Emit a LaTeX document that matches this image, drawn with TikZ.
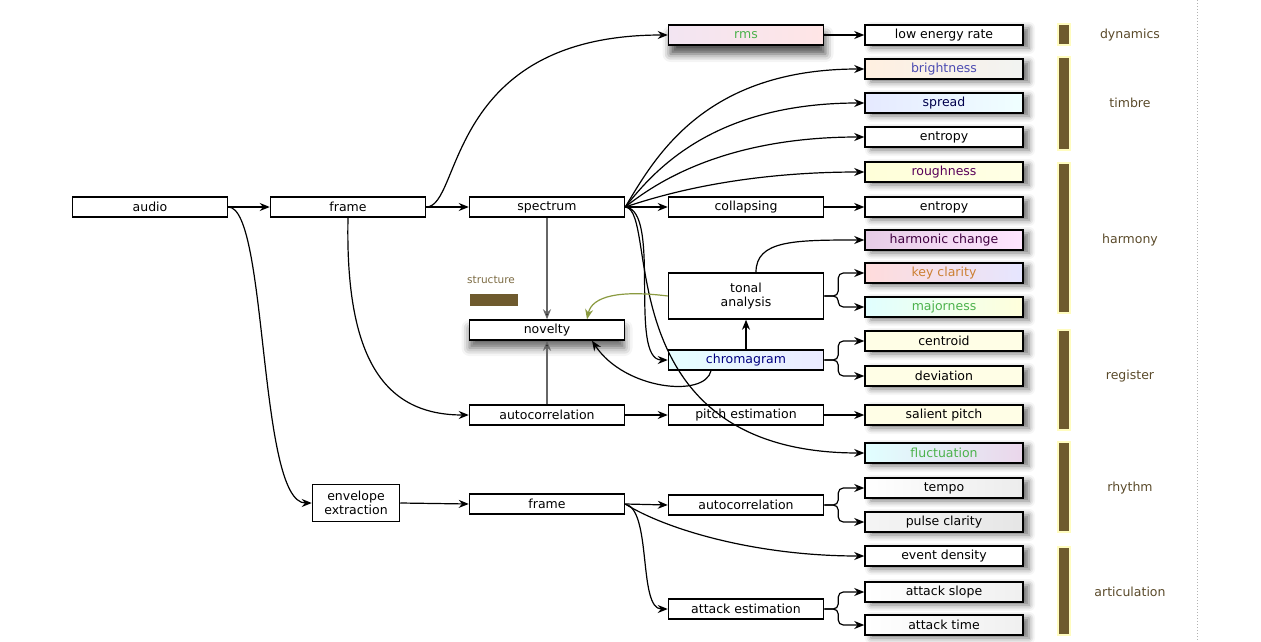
\documentclass[tikz,border=0pt]{standalone}
\usepackage{fontspec}
\setmainfont{DejaVu Sans}
\usetikzlibrary{arrows.meta,shadows.blur}
\definecolor{barbrown}{HTML}{6E5A2E}
\definecolor{cattext}{HTML}{5A4A2A}
\definecolor{olivearr}{HTML}{8A9A40}
\newcommand{\fs}{\fontsize{12.5}{14}\selectfont}
\tikzset{
  box/.style={draw=black, line width=1.5pt, minimum width=155pt, minimum height=20pt, inner sep=1pt, font=\fs, fill=white},
  rbox/.style={box, minimum width=158pt, blur shadow={shadow xshift=6pt, shadow yshift=-3pt, shadow blur radius=6pt, shadow opacity=55}},
  arr/.style={-{Stealth[length=10pt,width=8pt]}, line width=1.2pt},
  grayarr/.style={arr, draw=gray!80!black, -{Stealth[length=10pt,width=8pt,fill=black]}},
  catbar/.style={fill=barbrown, draw=yellow!25, line width=2pt},
  cat/.style={font=\fs, text=cattext, inner sep=1pt},
}
\begin{document}
\begin{tikzpicture}[x=1pt,y=-1pt]
\useasboundingbox (0,0) rectangle (1261,642);
% vertical dotted line
\draw[gray!60, line width=0.8pt, dash pattern=on 1pt off 2pt] (1197,0) -- (1197,642);
% category bars
\fill[catbar] (1058,24) rectangle (1070,45);
\fill[catbar] (1058,57) rectangle (1070,150);
\fill[catbar] (1058,163) rectangle (1070,313);
\fill[catbar] (1058,330) rectangle (1070,430);
\fill[catbar] (1058,442) rectangle (1070,532);
\fill[catbar] (1058,547) rectangle (1070,635);
\node[cat] (cdyn) at (1130,35) {dynamics};
\node[cat] (ctim) at (1130,103) {timbre};
\node[cat] (char) at (1130,240) {harmony};
\node[cat] (creg) at (1130,376) {register};
\node[cat] (crhy) at (1130,488) {rhythm};
\node[cat] (cart) at (1130,592) {articulation};
% structure
\node[font=\fontsize{10.5}{12}\selectfont, text=barbrown!90] (struct) at (491,280) {structure};
\fill[barbrown] (470,294) rectangle (518,306);

% left/main nodes
\node[box] (audio) at (150,207) {audio};
\node[box] (frame) at (348,207) {frame};
\node[box] (spectrum) at (547,207) {spectrum};
\node[box, left color=violet!10, right color=red!10, text=gray!60!green, blur shadow={shadow xshift=2pt, shadow yshift=-9pt, shadow blur radius=8pt, shadow opacity=70}] (rms) at (746,35) {rms};
\node[box] (collapsing) at (746,207) {collapsing};
\node[box, minimum height=46pt, align=center] (tonal) at (746,296) {tonal\\analysis};
\node[box, left color=cyan!10, right color=blue!8, text=blue!50!black] (chrom) at (746,360) {chromagram};
\node[box, blur shadow={shadow xshift=0pt, shadow yshift=-8pt, shadow blur radius=8pt, shadow opacity=60}] (novelty) at (547,330) {novelty};
\node[box] (autoc) at (547,415) {autocorrelation};
\node[box] (pitch) at (746,415) {pitch estimation};
\node[box, minimum width=87pt, minimum height=37pt, align=center] (env) at (356,503) {envelope\\extraction};
\node[box] (frame2) at (547,504) {frame};
\node[box] (autoc2) at (746,505) {autocorrelation};
\node[box] (attack) at (746,609) {attack estimation};

% right column
\node[rbox] (ler) at (944,35) {low energy rate};
\node[rbox, left color=orange!12, right color=green!6!gray!10, text=blue!40!gray] (bright) at (944,69) {brightness};
\node[rbox, left color=cyan!15!blue!10, right color=cyan!6, text=blue!30!black] (spread) at (944,103) {spread};
\node[rbox] (entropy) at (944,137) {entropy};
\node[rbox, left color=yellow!15, right color=yellow!10, text=violet!70!black] (rough) at (944,172) {roughness};
\node[rbox] (entropy2) at (944,207) {entropy};
\node[rbox, left color=violet!20, right color=magenta!10, text=violet!50!black] (hchange) at (944,240) {harmonic change};
\node[rbox, left color=red!14, right color=blue!10, text=orange!60!gray] (key) at (944,273) {key clarity};
\node[rbox, left color=cyan!12, right color=yellow!14, text=green!40!gray] (major) at (944,307) {majorness};
\node[rbox, fill=yellow!10] (centroid) at (944,341) {centroid};
\node[rbox, fill=yellow!10] (deviation) at (944,376) {deviation};
\node[rbox, fill=yellow!10] (salient) at (944,415) {salient pitch};
\node[rbox, left color=cyan!12, right color=violet!16, text=green!40!gray] (fluct) at (944,453) {fluctuation};
\node[rbox, left color=white, right color=gray!15] (tempo) at (944,488) {tempo};
\node[rbox, left color=gray!8, right color=gray!20] (pulse) at (944,522) {pulse clarity};
\node[rbox] (event) at (944,556) {event density};
\node[rbox, left color=white, right color=gray!12] (aslope) at (944,592) {attack slope};
\node[rbox, left color=white, right color=gray!12] (atime) at (944,625) {attack time};

% connectors
\draw[arr] (audio.east) -- (frame.west);
\draw[arr] (audio.east) .. controls (268,207) and (258,503) .. (env.west);
\draw[arr] (frame.east) -- (spectrum.west);
\draw[arr] (frame.east) .. controls (462,207) and (445,35) .. (rms.west);
\draw[arr] (frame.south) .. controls (345,360) and (385,415) .. (autoc.west);
\draw[arr] (rms.east) -- (ler.west);
\draw[grayarr] (spectrum.south) -- (novelty.north);
\draw[grayarr] (autoc.north) -- (novelty.south);
\draw[arr] (spectrum.east) .. controls +(30,-50) and +(-160,0) .. (bright.west);
\draw[arr] (spectrum.east) .. controls +(30,-38) and +(-150,0) .. (spread.west);
\draw[arr] (spectrum.east) .. controls +(30,-24) and +(-140,0) .. (entropy.west);
\draw[arr] (spectrum.east) .. controls +(30,-10) and +(-130,0) .. (rough.west);
\draw[arr] (spectrum.east) -- (collapsing.west);
\draw[arr] (collapsing.east) -- (entropy2.west);
\draw[arr] (spectrum.east) .. controls (662,210) and (628,360) .. (chrom.west);
\draw[arr] (spectrum.east) .. controls (660,210) and (605,453) .. (fluct.west);
\draw[arr] (chrom.north) -- (tonal.south);
\draw[arr, draw=olivearr, -{Stealth[length=10pt,width=8pt,fill=olivearr]}] (tonal.west) .. controls (620,290) and (592,296) .. ([xshift=40pt]novelty.north);
\draw[arr] ([xshift=-35pt]chrom.south) .. controls (705,398) and (625,390) .. ([xshift=45pt]novelty.south);
\draw[arr] ([xshift=10pt]tonal.north) .. controls +(0,-32) and +(-70,0) .. (hchange.west);
\draw[arr, rounded corners=5pt] (tonal.east) -- ++(14,0) |- (key.west);
\draw[arr, rounded corners=5pt] (tonal.east) -- ++(14,0) |- (major.west);
\draw[arr, rounded corners=5pt] (chrom.east) -- ++(14,0) |- (centroid.west);
\draw[arr, rounded corners=5pt] (chrom.east) -- ++(14,0) |- (deviation.west);
\draw[arr] (autoc.east) -- (pitch.west);
\draw[arr] (pitch.east) -- (salient.west);
\draw[arr] (env.east) -- (frame2.west);
\draw[arr] (frame2.east) -- (autoc2.west);
\draw[arr] (frame2.east) .. controls +(40,25) and +(-110,0) .. (event.west);
\draw[arr] (frame2.east) .. controls (652,510) and (638,609) .. (attack.west);
\draw[arr, rounded corners=5pt] (autoc2.east) -- ++(14,0) |- (tempo.west);
\draw[arr, rounded corners=5pt] (autoc2.east) -- ++(14,0) |- (pulse.west);
\draw[arr, rounded corners=5pt] (attack.east) -- ++(14,0) |- (aslope.west);
\draw[arr, rounded corners=5pt] (attack.east) -- ++(14,0) |- (atime.west);
\end{tikzpicture}
\end{document}
